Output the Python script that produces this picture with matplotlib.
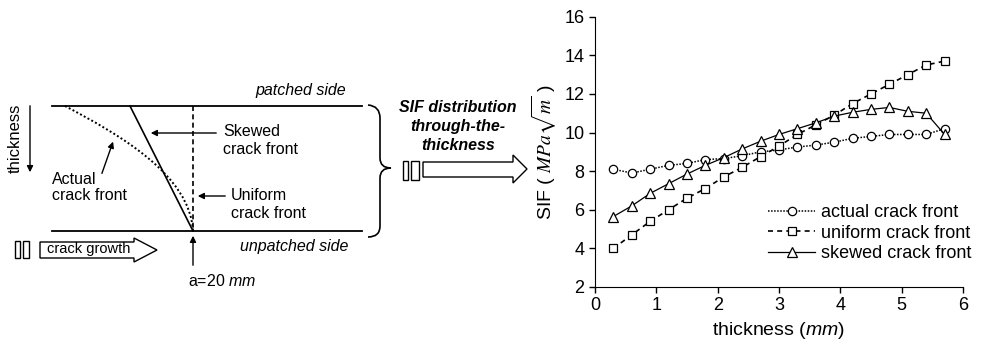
import matplotlib
matplotlib.use("Agg")
import matplotlib.pyplot as plt
from matplotlib.patches import Polygon, Rectangle, PathPatch
from matplotlib.path import Path

plt.rcParams["font.family"] = ["Liberation Sans", "DejaVu Sans"]
plt.rcParams["mathtext.fontset"] = "custom"
plt.rcParams["mathtext.rm"] = "Liberation Sans"
plt.rcParams["mathtext.it"] = "Liberation Sans:italic"

# SIF values
thickness = [0.3, 0.6, 0.9, 1.2, 1.5, 1.8, 2.1, 2.4, 2.7, 3.0,
             3.3, 3.6, 3.9, 4.2, 4.5, 4.8, 5.1, 5.4, 5.7]
sif_actual = [8.1, 7.9, 8.1, 8.3, 8.4, 8.6, 8.65, 8.8, 9.0, 9.1,
              9.25, 9.35, 9.5, 9.7, 9.8, 9.9, 9.9, 9.9, 10.2]
sif_uniform = [4.0, 4.7, 5.4, 6.0, 6.6, 7.1, 7.7, 8.2, 8.75, 9.3,
               9.9, 10.4, 10.9, 11.5, 12.0, 12.5, 13.0, 13.5, 13.7]
sif_skewed = [5.65, 6.2, 6.85, 7.35, 7.85, 8.3, 8.7, 9.15, 9.55, 9.9,
              10.2, 10.5, 10.85, 11.05, 11.2, 11.3, 11.1, 11.0, 9.9]
labels = ["actual crack front", "uniform crack front", "skewed crack front"]

W, H = 987, 341
fig = plt.figure(figsize=(W / 100, H / 100), dpi=100)

# ---- schematic on the left (drawn in pixel coordinates) ----
sk = fig.add_axes([0, 0, 1, 1])
sk.set_xlim(0, W)
sk.set_ylim(H, 0)
sk.axis("off")

fs = 11.5
sk.plot([52, 362], [106, 106], color="black", lw=1.3)
sk.plot([52, 362], [231, 231], color="black", lw=1.3)
sk.text(301, 90, "patched side", style="italic", fontsize=fs, ha="center", va="center")
sk.text(294, 246, "unpatched side", style="italic", fontsize=fs, ha="center", va="center")

# thickness arrow
sk.text(15, 138, "thickness", rotation=90, fontsize=12, ha="center", va="center")
sk.annotate("", xy=(30, 175), xytext=(30, 103),
            arrowprops=dict(arrowstyle="-|>", color="black", lw=1, mutation_scale=9))

# crack fronts
curve = Path([(65, 106), (120, 135), (190, 175), (193, 231)],
             [Path.MOVETO, Path.CURVE4, Path.CURVE4, Path.CURVE4])
sk.add_patch(PathPatch(curve, fill=False, ls=(0, (1, 1.2)), lw=1.4, color="black"))
sk.plot([130, 193], [106, 231], color="black", lw=1.2)
sk.plot([193, 193], [106, 231], color="black", lw=1.2, ls=(0, (3, 2)))

arr = dict(arrowstyle="-|>", color="black", lw=1, mutation_scale=9)
sk.annotate("", xy=(148, 133), xytext=(219, 133), arrowprops=arr)
sk.text(223, 132, "Skewed", fontsize=fs, va="center")
sk.text(223, 150, "crack front", fontsize=fs, va="center")
sk.annotate("", xy=(195, 196), xytext=(228, 196), arrowprops=arr)
sk.text(231, 196, "Uniform", fontsize=fs, va="center")
sk.text(231, 213, "crack front", fontsize=fs, va="center")
sk.annotate("", xy=(114, 139), xytext=(101, 176), arrowprops=arr)
sk.text(52, 179, "Actual", fontsize=fs, va="center")
sk.text(52, 196, "crack front", fontsize=fs, va="center")

sk.annotate("", xy=(193, 233), xytext=(193, 268), arrowprops=arr)
sk.text(188, 281, "a=20 $\\mathit{mm}$", fontsize=fs, va="center")

# crack growth block arrow
sk.add_patch(Rectangle((15, 241), 5, 17, fill=False, lw=1))
sk.add_patch(Rectangle((23, 241), 6, 17, fill=False, lw=1))
sk.add_patch(Polygon([(40, 242), (134, 242), (134, 238), (157, 250),
                      (134, 262), (134, 258), (40, 258)],
                     closed=True, fill=False, lw=1))
sk.text(47, 249.5, "crack growth", fontsize=10.5, va="center")

# brace
brace = Path([(368, 105), (380, 106), (380, 118), (380, 158), (380, 168), (391, 168),
              (380, 168), (380, 178), (380, 226), (380, 237), (368, 237)],
             [Path.MOVETO, Path.CURVE3, Path.CURVE3, Path.LINETO, Path.CURVE3, Path.CURVE3,
              Path.CURVE3, Path.CURVE3, Path.LINETO, Path.CURVE3, Path.CURVE3])
sk.add_patch(PathPatch(brace, fill=False, lw=1.2, color="black"))

sk.text(458, 107, "SIF distribution", fontsize=fs, weight="bold", style="italic",
        ha="center", va="center")
sk.text(458, 127, "through-the-", fontsize=fs, weight="bold", style="italic",
        ha="center", va="center")
sk.text(458, 146, "thickness", fontsize=fs, weight="bold", style="italic",
        ha="center", va="center")
sk.add_patch(Rectangle((403, 161), 5, 19, fill=False, lw=1))
sk.add_patch(Rectangle((411, 161), 8, 19, fill=False, lw=1))
sk.add_patch(Polygon([(423, 162), (513, 162), (513, 155), (527, 169),
                      (513, 183), (513, 177), (423, 177)],
                     closed=True, fill=False, lw=1))

# ---- SIF chart ----
ax = fig.add_axes([0.6028, 0.1584, 0.3729, 0.7926])
mk = dict(markerfacecolor="white", markeredgecolor="black", markeredgewidth=0.9, color="black")
ax.plot(thickness, sif_actual, ls=(0, (1, 1)), lw=1.1, marker="o", markersize=6, label=labels[0], **mk)
ax.plot(thickness, sif_uniform, ls=(0, (3, 2.5)), lw=1.2, marker="s", markersize=5.5, label=labels[1], **mk)
ax.plot(thickness, sif_skewed, ls="-", lw=0.9, marker="^", markersize=6.5, label=labels[2], **mk)

ax.set_xlim(0, 6)
ax.set_ylim(2, 16)
ax.set_xticks(range(0, 7))
ax.set_yticks(range(2, 17, 2))
ax.spines["top"].set_visible(False)
ax.spines["right"].set_visible(False)
ax.tick_params(direction="out", length=4, labelsize=13, width=1)
ax.set_xlabel("thickness ($\\mathit{mm}$)", fontsize=14, labelpad=4)
ax.set_ylabel("SIF ( $MPa\\sqrt{m}$ )", fontsize=14, labelpad=4, math_fontfamily="stix")

ax.legend(loc="center left", bbox_to_anchor=(752 / W, 1 - 233 / H),
          bbox_transform=fig.transFigure, frameon=False, fontsize=13,
          handlelength=2.6, handletextpad=0.3, labelspacing=0.2, borderpad=0.4)

plt.savefig("out.png", dpi=100)
